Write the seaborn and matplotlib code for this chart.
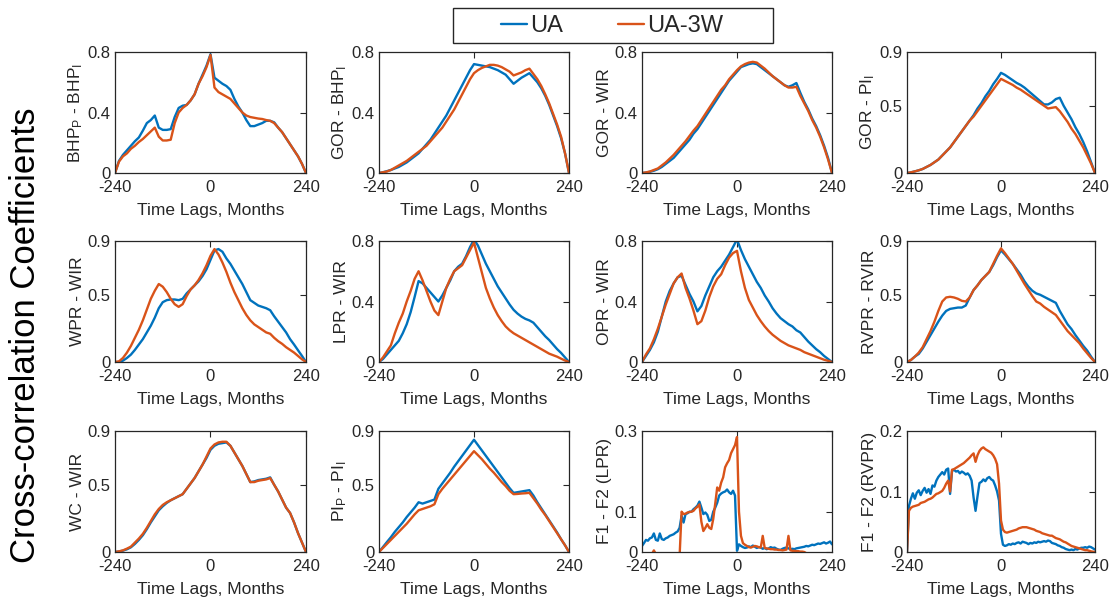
import numpy as np
import pandas as pd
import matplotlib
matplotlib.use("Agg")
import matplotlib.pyplot as plt
import seaborn as sns
from matplotlib.patches import Rectangle
from matplotlib.lines import Line2D

# ---------------- data ----------------
LAGS10 = list(range(-240, 241, 10))
LAGS5 = list(range(-240, 241, 5))

SERIES_NAMES = ["UA", "UA-3W"]

BHP_UA = [0, 0.08, 0.12, 0.15, 0.18, 0.21, 0.235, 0.28, 0.33, 0.35, 0.38, 0.30,
          0.285, 0.285, 0.29, 0.37, 0.43, 0.445, 0.45, 0.48, 0.52, 0.59, 0.65, 0.71,
          0.785, 0.63, 0.61, 0.59, 0.575, 0.55, 0.49, 0.44, 0.40, 0.35, 0.31, 0.31,
          0.32, 0.33, 0.345, 0.345, 0.335, 0.30, 0.27, 0.23, 0.19, 0.15, 0.11, 0.06, 0]
BHP_3W = [0, 0.075, 0.11, 0.13, 0.16, 0.18, 0.205, 0.225, 0.25, 0.275, 0.30, 0.24,
          0.215, 0.215, 0.22, 0.33, 0.40, 0.43, 0.45, 0.48, 0.52, 0.59, 0.64, 0.70,
          0.78, 0.565, 0.535, 0.52, 0.505, 0.49, 0.46, 0.43, 0.40, 0.38, 0.37, 0.365,
          0.36, 0.357, 0.35, 0.345, 0.33, 0.30, 0.27, 0.23, 0.19, 0.15, 0.11, 0.06, 0]

GORB_UA = [0, 0.005, 0.012, 0.02, 0.03, 0.04, 0.055, 0.07, 0.09, 0.11, 0.13, 0.16,
           0.19, 0.22, 0.26, 0.30, 0.34, 0.38, 0.43, 0.48, 0.53, 0.58, 0.63, 0.68,
           0.72, 0.715, 0.71, 0.705, 0.70, 0.69, 0.68, 0.665, 0.65, 0.62, 0.59, 0.61,
           0.63, 0.645, 0.66, 0.63, 0.60, 0.56, 0.51, 0.45, 0.38, 0.31, 0.23, 0.13, 0]
GORB_3W = [0, 0.005, 0.01, 0.02, 0.035, 0.05, 0.065, 0.08, 0.10, 0.12, 0.14, 0.16,
           0.18, 0.21, 0.24, 0.27, 0.30, 0.34, 0.38, 0.42, 0.47, 0.52, 0.57, 0.62,
           0.66, 0.68, 0.695, 0.705, 0.715, 0.715, 0.71, 0.70, 0.685, 0.67, 0.645, 0.655,
           0.665, 0.68, 0.69, 0.655, 0.62, 0.575, 0.52, 0.46, 0.39, 0.32, 0.24, 0.13, 0]

GORW_UA = [0, 0.003, 0.008, 0.015, 0.025, 0.04, 0.06, 0.08, 0.10, 0.13, 0.16, 0.19,
           0.22, 0.26, 0.29, 0.33, 0.37, 0.41, 0.45, 0.49, 0.53, 0.57, 0.61, 0.64,
           0.67, 0.70, 0.71, 0.72, 0.725, 0.72, 0.70, 0.68, 0.66, 0.64, 0.62, 0.60,
           0.58, 0.57, 0.58, 0.595, 0.53, 0.47, 0.42, 0.36, 0.31, 0.25, 0.18, 0.10, 0]
GORW_3W = [0, 0.004, 0.01, 0.02, 0.03, 0.05, 0.07, 0.095, 0.12, 0.15, 0.18, 0.21,
           0.245, 0.28, 0.31, 0.35, 0.39, 0.43, 0.47, 0.51, 0.55, 0.58, 0.62, 0.65,
           0.68, 0.705, 0.72, 0.73, 0.735, 0.73, 0.71, 0.69, 0.665, 0.64, 0.62, 0.60,
           0.58, 0.565, 0.565, 0.57, 0.51, 0.46, 0.41, 0.35, 0.30, 0.24, 0.17, 0.09, 0]

GORP_UA = [0, 0.005, 0.012, 0.02, 0.03, 0.045, 0.06, 0.08, 0.10, 0.13, 0.16, 0.19,
           0.23, 0.27, 0.31, 0.35, 0.39, 0.43, 0.48, 0.52, 0.57, 0.61, 0.66, 0.70,
           0.745, 0.73, 0.71, 0.69, 0.67, 0.655, 0.635, 0.61, 0.585, 0.56, 0.535, 0.51,
           0.51, 0.525, 0.55, 0.56, 0.50, 0.45, 0.40, 0.34, 0.29, 0.23, 0.16, 0.08, 0]
GORP_3W = [0, 0.005, 0.012, 0.02, 0.03, 0.045, 0.06, 0.08, 0.10, 0.13, 0.16, 0.19,
           0.23, 0.27, 0.31, 0.35, 0.39, 0.42, 0.46, 0.50, 0.54, 0.58, 0.62, 0.66,
           0.70, 0.685, 0.67, 0.655, 0.635, 0.62, 0.60, 0.58, 0.56, 0.54, 0.52, 0.50,
           0.48, 0.485, 0.49, 0.46, 0.42, 0.38, 0.33, 0.29, 0.24, 0.19, 0.13, 0.07, 0]

WPR_UA = [0, 0.0, 0.01, 0.03, 0.055, 0.09, 0.13, 0.17, 0.22, 0.27, 0.33, 0.40,
          0.445, 0.46, 0.465, 0.465, 0.46, 0.47, 0.51, 0.54, 0.57, 0.60, 0.64, 0.69,
          0.76, 0.83, 0.84, 0.82, 0.77, 0.73, 0.68, 0.63, 0.58, 0.52, 0.46, 0.44,
          0.42, 0.41, 0.40, 0.385, 0.34, 0.30, 0.26, 0.22, 0.17, 0.13, 0.087, 0.045, 0]
WPR_3W = [0, 0.005, 0.03, 0.07, 0.12, 0.18, 0.24, 0.31, 0.39, 0.47, 0.53, 0.58,
          0.56, 0.52, 0.47, 0.43, 0.41, 0.43, 0.49, 0.54, 0.57, 0.61, 0.66, 0.72,
          0.79, 0.84, 0.80, 0.74, 0.67, 0.59, 0.52, 0.46, 0.40, 0.35, 0.31, 0.28,
          0.26, 0.24, 0.22, 0.21, 0.18, 0.155, 0.135, 0.11, 0.09, 0.07, 0.045, 0.02, 0]

LPR_UA = [0, 0.02, 0.05, 0.08, 0.11, 0.14, 0.19, 0.25, 0.33, 0.43, 0.535, 0.52,
          0.49, 0.46, 0.43, 0.40, 0.44, 0.49, 0.54, 0.60, 0.63, 0.65, 0.70, 0.76,
          0.81, 0.77, 0.71, 0.65, 0.60, 0.55, 0.50, 0.46, 0.42, 0.38, 0.345, 0.32,
          0.30, 0.285, 0.275, 0.26, 0.23, 0.20, 0.17, 0.145, 0.115, 0.085, 0.06, 0.03, 0]
LPR_3W = [0, 0.03, 0.07, 0.11, 0.19, 0.26, 0.32, 0.40, 0.47, 0.55, 0.60, 0.54,
          0.47, 0.40, 0.34, 0.31, 0.40, 0.49, 0.55, 0.60, 0.62, 0.64, 0.69, 0.74,
          0.79, 0.69, 0.59, 0.49, 0.42, 0.36, 0.31, 0.27, 0.235, 0.21, 0.19, 0.175,
          0.16, 0.145, 0.13, 0.115, 0.10, 0.085, 0.07, 0.055, 0.045, 0.035, 0.022, 0.01, 0]

OPR_UA = [0, 0.04, 0.08, 0.13, 0.20, 0.30, 0.40, 0.47, 0.52, 0.56, 0.57, 0.51,
          0.45, 0.40, 0.335, 0.37, 0.44, 0.50, 0.56, 0.60, 0.63, 0.67, 0.71, 0.76,
          0.81, 0.74, 0.68, 0.63, 0.58, 0.53, 0.49, 0.44, 0.40, 0.355, 0.32, 0.29,
          0.27, 0.25, 0.235, 0.21, 0.195, 0.165, 0.135, 0.11, 0.085, 0.065, 0.04, 0.02, 0]
OPR_3W = [0, 0.05, 0.09, 0.15, 0.22, 0.30, 0.38, 0.45, 0.52, 0.56, 0.585, 0.49,
          0.42, 0.34, 0.25, 0.27, 0.34, 0.43, 0.50, 0.55, 0.58, 0.64, 0.69, 0.72,
          0.735, 0.60, 0.49, 0.41, 0.36, 0.31, 0.27, 0.235, 0.205, 0.18, 0.16, 0.14,
          0.125, 0.11, 0.10, 0.09, 0.08, 0.065, 0.055, 0.045, 0.035, 0.025, 0.015, 0.008, 0]

RVPR_UA = [0, 0.015, 0.04, 0.06, 0.10, 0.15, 0.20, 0.25, 0.30, 0.345, 0.38, 0.395,
           0.40, 0.405, 0.405, 0.42, 0.48, 0.535, 0.57, 0.61, 0.64, 0.67, 0.72, 0.78,
           0.83, 0.80, 0.765, 0.73, 0.69, 0.65, 0.60, 0.56, 0.53, 0.51, 0.50, 0.485,
           0.47, 0.455, 0.44, 0.38, 0.33, 0.28, 0.245, 0.20, 0.16, 0.12, 0.085, 0.04, 0]
RVPR_3W = [0, 0.015, 0.04, 0.07, 0.11, 0.17, 0.23, 0.30, 0.38, 0.45, 0.48, 0.485,
           0.48, 0.47, 0.455, 0.45, 0.48, 0.535, 0.57, 0.61, 0.64, 0.67, 0.73, 0.79,
           0.845, 0.81, 0.77, 0.73, 0.68, 0.63, 0.58, 0.535, 0.49, 0.45, 0.435, 0.41,
           0.39, 0.37, 0.35, 0.31, 0.27, 0.23, 0.20, 0.17, 0.14, 0.10, 0.065, 0.03, 0]

WC_UA = [0, 0.004, 0.01, 0.02, 0.035, 0.06, 0.09, 0.125, 0.17, 0.22, 0.265, 0.31,
         0.34, 0.365, 0.385, 0.40, 0.415, 0.43, 0.47, 0.51, 0.55, 0.60, 0.65, 0.70,
         0.76, 0.79, 0.805, 0.81, 0.815, 0.79, 0.74, 0.69, 0.64, 0.58, 0.52, 0.525,
         0.535, 0.54, 0.545, 0.555, 0.50, 0.45, 0.39, 0.33, 0.29, 0.22, 0.14, 0.07, 0]
WC_3W = [0, 0.005, 0.012, 0.025, 0.04, 0.07, 0.10, 0.135, 0.18, 0.23, 0.28, 0.32,
         0.35, 0.37, 0.385, 0.40, 0.415, 0.43, 0.47, 0.51, 0.55, 0.60, 0.65, 0.71,
         0.77, 0.80, 0.815, 0.82, 0.82, 0.79, 0.74, 0.69, 0.64, 0.58, 0.52, 0.52,
         0.53, 0.535, 0.54, 0.55, 0.50, 0.45, 0.39, 0.33, 0.29, 0.22, 0.14, 0.07, 0]

PI_UA = [0, 0.037, 0.074, 0.11, 0.15, 0.185, 0.22, 0.26, 0.295, 0.33, 0.37, 0.36,
         0.37, 0.38, 0.39, 0.47, 0.51, 0.55, 0.59, 0.635, 0.675, 0.715, 0.755, 0.795,
         0.835, 0.795, 0.755, 0.715, 0.675, 0.635, 0.595, 0.555, 0.515, 0.475, 0.44, 0.445,
         0.45, 0.455, 0.46, 0.42, 0.37, 0.325, 0.28, 0.235, 0.19, 0.145, 0.095, 0.05, 0]
PI_3W = [0, 0.03, 0.06, 0.09, 0.12, 0.15, 0.18, 0.21, 0.245, 0.28, 0.31, 0.32,
         0.33, 0.34, 0.355, 0.43, 0.47, 0.505, 0.54, 0.575, 0.61, 0.645, 0.68, 0.715,
         0.75, 0.72, 0.69, 0.655, 0.62, 0.59, 0.555, 0.52, 0.49, 0.455, 0.43, 0.432,
         0.435, 0.437, 0.44, 0.40, 0.36, 0.315, 0.275, 0.23, 0.185, 0.14, 0.095, 0.05, 0]

F1LPR_UA = [0.015, 0.022, 0.030, 0.028, 0.034, 0.036, 0.046, 0.030,
            0.028, 0.046, 0.032, 0.030, 0.034, 0.036, 0.040, 0.042,
            0.044, 0.048, 0.051, 0.060, 0.090, 0.073, 0.094, 0.096,
            0.100, 0.100, 0.106, 0.110, 0.115, 0.125, 0.110, 0.094,
            0.098, 0.092, 0.077, 0.080, 0.100, 0.110, 0.122, 0.140,
            0.145, 0.148, 0.150, 0.155, 0.148, 0.144, 0.152, 0.140,
            0.003, 0.019, 0.015, 0.012, 0.010, 0.011, 0.014, 0.012,
            0.016, 0.013, 0.010, 0.012, 0.011, 0.008, 0.010, 0.007,
            0.009, 0.012, 0.010, 0.011, 0.008, 0.006, 0.005, 0.008,
            0.010, 0.011, 0.009, 0.007, 0.008, 0.007, 0.009, 0.010,
            0.011, 0.012, 0.013, 0.015, 0.014, 0.016, 0.018, 0.017,
            0.019, 0.021, 0.020, 0.022, 0.024, 0.021, 0.023, 0.026,
            0.019]
F1LPR_3W = [-0.01, -0.01, -0.01, -0.01, -0.01, -0.005, 0.004, -0.005,
            -0.01, -0.01, -0.01, -0.01, -0.01, -0.01, -0.01, -0.01,
            -0.01, -0.01, -0.01, -0.01, 0.100, 0.094, 0.095, 0.098,
            0.099, 0.100, 0.102, 0.108, 0.112, 0.118, 0.075, 0.052,
            0.060, 0.069, 0.060, 0.057, 0.082, 0.120, 0.160, 0.152,
            0.172, 0.185, 0.210, 0.220, 0.228, 0.245, 0.255, 0.265,
            0.285, 0.100, 0.040, 0.022, 0.018, 0.015, 0.012, 0.011,
            0.013, 0.015, 0.014, 0.012, 0.011, 0.040, 0.010, 0.009,
            0.008, 0.007, 0.007, 0.006, 0.006, 0.005, 0.005, 0.004,
            0.005, 0.006, 0.040, 0.004, 0.003, 0.003, 0.002, 0.002,
            0.001, 0.001, 0.0, -0.003, -0.005, -0.01, -0.01, -0.01,
            -0.01, -0.01, -0.01, -0.01, -0.01, -0.01, -0.01, -0.01,
            -0.01]

F1RV_UA = [0.0, 0.076, 0.088, 0.097, 0.088, 0.098, 0.102, 0.094,
           0.101, 0.106, 0.098, 0.104, 0.096, 0.110, 0.108, 0.118,
           0.124, 0.128, 0.132, 0.128, 0.136, 0.138, 0.096, 0.134,
           0.136, 0.133, 0.134, 0.130, 0.133, 0.131, 0.128, 0.130,
           0.126, 0.118, 0.090, 0.068, 0.092, 0.114, 0.116, 0.120,
           0.117, 0.122, 0.124, 0.120, 0.118, 0.110, 0.100, 0.085,
           0.030, 0.012, 0.010, 0.011, 0.013, 0.012, 0.014, 0.013,
           0.015, 0.016, 0.014, 0.017, 0.016, 0.015, 0.013, 0.015,
           0.014, 0.016, 0.015, 0.017, 0.016, 0.017, 0.018, 0.017,
           0.019, 0.018, 0.015, 0.014, 0.013, 0.011, 0.010, 0.008,
           0.007, 0.005, 0.004, 0.003, 0.004, 0.003, 0.005, 0.004,
           0.006, 0.007, 0.007, 0.008, 0.007, 0.009, 0.008, 0.006,
           0.004]
F1RV_3W = [0.0, 0.068, 0.073, 0.075, 0.076, 0.077, 0.078, 0.081,
           0.082, 0.083, 0.085, 0.087, 0.088, 0.090, 0.093, 0.096,
           0.097, 0.099, 0.101, 0.106, 0.113, 0.118, 0.100, 0.136,
           0.137, 0.139, 0.141, 0.143, 0.145, 0.147, 0.150, 0.153,
           0.156, 0.160, 0.163, 0.149, 0.160, 0.167, 0.171, 0.173,
           0.170, 0.168, 0.166, 0.164, 0.160, 0.154, 0.145, 0.113,
           0.052, 0.037, 0.033, 0.032, 0.033, 0.034, 0.035, 0.036,
           0.037, 0.039, 0.040, 0.041, 0.041, 0.041, 0.040, 0.039,
           0.038, 0.037, 0.035, 0.034, 0.033, 0.031, 0.030, 0.029,
           0.028, 0.027, 0.027, 0.025, 0.023, 0.022, 0.021, 0.019,
           0.017, 0.016, 0.014, 0.012, 0.010, 0.009, 0.008, 0.007,
           0.006, 0.005, 0.004, 0.003, 0.003, 0.002, 0.001, 0.0005,
           0.0]

YLABELS = [r"BHP$_\mathregular{P}$ - BHP$_\mathregular{I}$", r"GOR - BHP$_\mathregular{I}$",
           "GOR - WIR", r"GOR - PI$_\mathregular{I}$",
           "WPR - WIR", "LPR - WIR", "OPR - WIR", "RVPR - RVIR",
           "WC - WIR", r"PI$_\mathregular{P}$ - PI$_\mathregular{I}$",
           "F1 - F2 (LPR)", "F1 - F2 (RVPR)"]
YMAX = [0.8, 0.8, 0.8, 0.9, 0.9, 0.8, 0.8, 0.9, 0.9, 0.9, 0.3, 0.2]
YTICKS = [[0, 0.4, 0.8], [0, 0.4, 0.8], [0, 0.4, 0.8], [0, 0.5, 0.9],
          [0, 0.5, 0.9], [0, 0.4, 0.8], [0, 0.4, 0.8], [0, 0.5, 0.9],
          [0, 0.5, 0.9], [0, 0.5, 0.9], [0, 0.1, 0.3], [0, 0.1, 0.2]]
XTICKS = [-240, 0, 240]
XLABEL = "Time Lags, Months"
SUPYLABEL = "Cross-correlation Coefficients"

PANELS = [
    (LAGS10, BHP_UA, BHP_3W), (LAGS10, GORB_UA, GORB_3W),
    (LAGS10, GORW_UA, GORW_3W), (LAGS10, GORP_UA, GORP_3W),
    (LAGS10, WPR_UA, WPR_3W), (LAGS10, LPR_UA, LPR_3W),
    (LAGS10, OPR_UA, OPR_3W), (LAGS10, RVPR_UA, RVPR_3W),
    (LAGS10, WC_UA, WC_3W), (LAGS10, PI_UA, PI_3W),
    (LAGS5, F1LPR_UA, F1LPR_3W), (LAGS5, F1RV_UA, F1RV_3W),
]

# ---------------- style ----------------
BLUE = "#0072BD"
ORANGE = "#D95319"
GRAY = "#262626"
LW = 1.7

sns.set_theme(style="white")
plt.rcParams["font.family"] = ["Liberation Sans", "DejaVu Sans"]
plt.rcParams["mathtext.fontset"] = "custom"
plt.rcParams["mathtext.rm"] = "Liberation Sans"
plt.rcParams["mathtext.it"] = "Liberation Sans"
plt.rcParams["mathtext.default"] = "regular"

FW, FH = 1112, 604
fig = plt.figure(figsize=(FW / 100, FH / 100), dpi=100)
fig.patch.set_facecolor("white")

COL_X = [115, 379, 642, 907]
COL_W = [191, 190, 190, 188]
ROW_Y = [52, 241, 431]
AX_H = 121

palette = {SERIES_NAMES[0]: BLUE, SERIES_NAMES[1]: ORANGE}

for i, (lags, ua, w3) in enumerate(PANELS):
    r, c = divmod(i, 4)
    ax = fig.add_axes([COL_X[c] / FW, 1 - (ROW_Y[r] + AX_H) / FH,
                       COL_W[c] / FW, AX_H / FH])
    n = len(lags)
    df = pd.DataFrame({
        "lag": list(lags) * 2,
        "value": list(ua) + list(w3),
        "method": [SERIES_NAMES[0]] * n + [SERIES_NAMES[1]] * n,
    })
    sns.lineplot(data=df, x="lag", y="value", hue="method", palette=palette,
                 linewidth=LW, ax=ax, legend=False, estimator=None, sort=False)
    ax.set_xlim(-240, 240)
    ax.set_ylim(0, YMAX[i])
    ax.set_xticks(XTICKS)
    ax.set_xticklabels([f"{t:g}" for t in XTICKS])
    ax.set_yticks(YTICKS[i])
    ax.set_yticklabels([f"{t:g}" for t in YTICKS[i]])
    ax.set_xlabel(XLABEL, fontsize=12.5, color=GRAY, labelpad=6)
    ax.set_ylabel(YLABELS[i], fontsize=12.5, color=GRAY, labelpad=2)
    for sp in ax.spines.values():
        sp.set_visible(True)
        sp.set_color(GRAY)
        sp.set_linewidth(0.9)
    ax.tick_params(direction="in", length=4, width=0.8, top=True, right=True,
                   labelsize=12, colors=GRAY)
    ax.tick_params(axis="x", pad=5)
    ax.tick_params(axis="y", pad=3)
    ax.set_facecolor("white")

# legend
handles = [Line2D([], [], color=BLUE, lw=LW), Line2D([], [], color=ORANGE, lw=LW)]
fig.legend(handles, SERIES_NAMES, loc="center",
           bbox_to_anchor=(612 / FW, 1 - 26 / FH), ncol=2, frameon=False,
           fontsize=17, handlelength=1.1, handletextpad=0.15,
           columnspacing=2.3, borderpad=0)
fig.add_artist(Rectangle((453 / FW, 1 - 43 / FH), 320 / FW, 35 / FH,
                         transform=fig.transFigure, fill=False,
                         edgecolor=GRAY, linewidth=1.0))

fig.text(26 / FW, 1 - 335 / FH, SUPYLABEL, rotation=90, ha="center",
         va="center", fontsize=25, color="black")

fig.savefig("out.png", dpi=100, facecolor="white")
